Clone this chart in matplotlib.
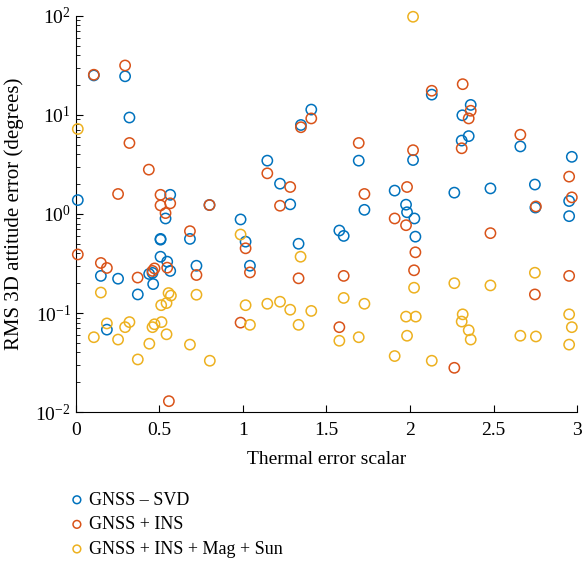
import matplotlib
matplotlib.use('Agg')
import matplotlib.pyplot as plt

plt.rcParams['font.family'] = ['Liberation Serif', 'DejaVu Serif']
plt.rcParams['mathtext.fontset'] = 'custom'
plt.rcParams['mathtext.rm'] = 'Liberation Serif'

# thermal error scalar for each run, and RMS 3D attitude error (deg) per method
svd_x = [0.012, 0.108, 0.15, 0.186, 0.253, 0.295, 0.321, 0.371, 0.439, 0.459, 0.463,
         0.507, 0.507, 0.507, 0.537, 0.547, 0.565, 0.565, 0.683, 0.722, 0.80,
         0.986, 1.016, 1.042, 1.146, 1.222, 1.283, 1.333, 1.347, 1.409,
         1.577, 1.603, 1.693, 1.727, 1.908, 1.976, 1.982, 2.018, 2.026, 2.032,
         2.13, 2.265, 2.309, 2.313, 2.351, 2.363, 2.481, 2.66, 2.747, 2.75,
         2.952, 2.952, 2.968]
svd_y = [1.38, 25.0, 0.237, 0.068, 0.222, 24.5, 9.4, 0.154, 0.248, 0.254, 0.196,
         0.55, 0.37, 0.56, 0.90, 0.33, 1.56, 0.266, 0.56, 0.30, 1.23,
         0.88, 0.525, 0.30, 3.45, 2.02, 1.25, 0.50, 7.9, 11.3,
         0.68, 0.60, 3.45, 1.10, 1.72, 1.24, 1.04, 3.5, 0.90, 0.59,
         16.0, 1.64, 5.5, 9.9, 6.1, 12.6, 1.81, 4.8, 1.98, 1.16,
         1.35, 0.95, 3.77]

ins_x = [0.012, 0.108, 0.15, 0.186, 0.253, 0.295, 0.321, 0.37, 0.437, 0.459, 0.471,
         0.507, 0.507, 0.537, 0.547, 0.557, 0.565, 0.683, 0.722, 0.80,
         0.986, 1.016, 1.042, 1.146, 1.222, 1.283, 1.333, 1.347, 1.409,
         1.577, 1.603, 1.693, 1.727, 1.908, 1.976, 1.982, 2.018, 2.024, 2.032,
         2.13, 2.265, 2.309, 2.315, 2.351, 2.363, 2.481, 2.66, 2.747, 2.753,
         2.952, 2.952, 2.968]
ins_y = [0.39, 25.4, 0.32, 0.285, 1.59, 31.5, 5.2, 0.228, 2.8, 0.266, 0.282,
         1.56, 1.22, 1.02, 0.287, 0.0129, 1.28, 0.67, 0.242, 1.23,
         0.080, 0.45, 0.257, 2.57, 1.21, 1.87, 0.224, 7.5, 9.2,
         0.072, 0.237, 5.2, 1.59, 0.90, 0.77, 1.87, 4.4, 0.27, 0.41,
         17.5, 0.028, 4.6, 20.4, 9.2, 11.0, 0.64, 6.3, 0.154, 1.19,
         2.38, 0.237, 1.47]

all_x = [0.012, 0.108, 0.15, 0.186, 0.253, 0.295, 0.321, 0.371, 0.44, 0.459, 0.471,
         0.511, 0.513, 0.543, 0.543, 0.555, 0.569, 0.683, 0.722, 0.802,
         0.986, 1.016, 1.042, 1.146, 1.222, 1.283, 1.333, 1.345, 1.409,
         1.577, 1.603, 1.693, 1.727, 1.908, 1.976, 1.982, 2.018, 2.024, 2.034,
         2.13, 2.265, 2.309, 2.315, 2.351, 2.363, 2.481, 2.66, 2.747, 2.753,
         2.952, 2.952, 2.968]
all_y = [7.2, 0.057, 0.161, 0.0785, 0.054, 0.072, 0.081, 0.034, 0.049, 0.072, 0.077,
         0.12, 0.081, 0.126, 0.061, 0.159, 0.15, 0.048, 0.153, 0.033,
         0.62, 0.12, 0.076, 0.124, 0.13, 0.108, 0.076, 0.37, 0.105,
         0.0525, 0.142, 0.057, 0.124, 0.0368, 0.092, 0.059, 97.7, 0.18, 0.092,
         0.033, 0.20, 0.082, 0.097, 0.067, 0.054, 0.19, 0.059, 0.255, 0.058,
         0.097, 0.048, 0.072]

labels = ['GNSS \u2013 SVD', 'GNSS + INS', 'GNSS + INS + Mag + Sun']
colors = ['#0072BD', '#D95319', '#EDB120']

fig = plt.figure(figsize=(5.83, 5.63), dpi=100)
ax = fig.add_axes([0.130, 0.268, 0.860, 0.704])

ax.scatter(svd_x, svd_y, s=55, facecolors='none', edgecolors=colors[0], linewidths=1.1,
           label=labels[0], clip_on=False, zorder=3)
ax.scatter(ins_x, ins_y, s=55, facecolors='none', edgecolors=colors[1], linewidths=1.1,
           label=labels[1], clip_on=False, zorder=3)
ax.scatter(all_x, all_y, s=55, facecolors='none', edgecolors=colors[2], linewidths=1.1,
           label=labels[2], clip_on=False, zorder=3)

ax.set_yscale('log')
ax.set_xlim(0, 3)
ax.set_ylim(1e-2, 1e2)
ax.set_xticks([0, 0.5, 1, 1.5, 2, 2.5, 3])
ax.set_xticklabels(['0', '0.5', '1', '1.5', '2', '2.5', '3'])
ax.spines['top'].set_visible(False)
ax.spines['right'].set_visible(False)
ax.tick_params(which='both', direction='in', labelsize=14)
ax.tick_params(which='major', length=5)
ax.tick_params(which='minor', length=3)
ax.tick_params(axis='x', pad=7)

ax.set_xlabel('Thermal error scalar', fontsize=14, labelpad=9)
ax.set_ylabel('RMS 3D attitude error (degrees)', fontsize=15, labelpad=2)
ax.yaxis.set_label_coords(-0.103, 0.5)

fig.legend(loc='upper left', bbox_to_anchor=(0.104, 0.143), frameon=False,
           fontsize=13, handletextpad=0.25, labelspacing=0.42, borderpad=0,
           handlelength=0.8, markerscale=0.75)

plt.savefig('out.png', dpi=100)
